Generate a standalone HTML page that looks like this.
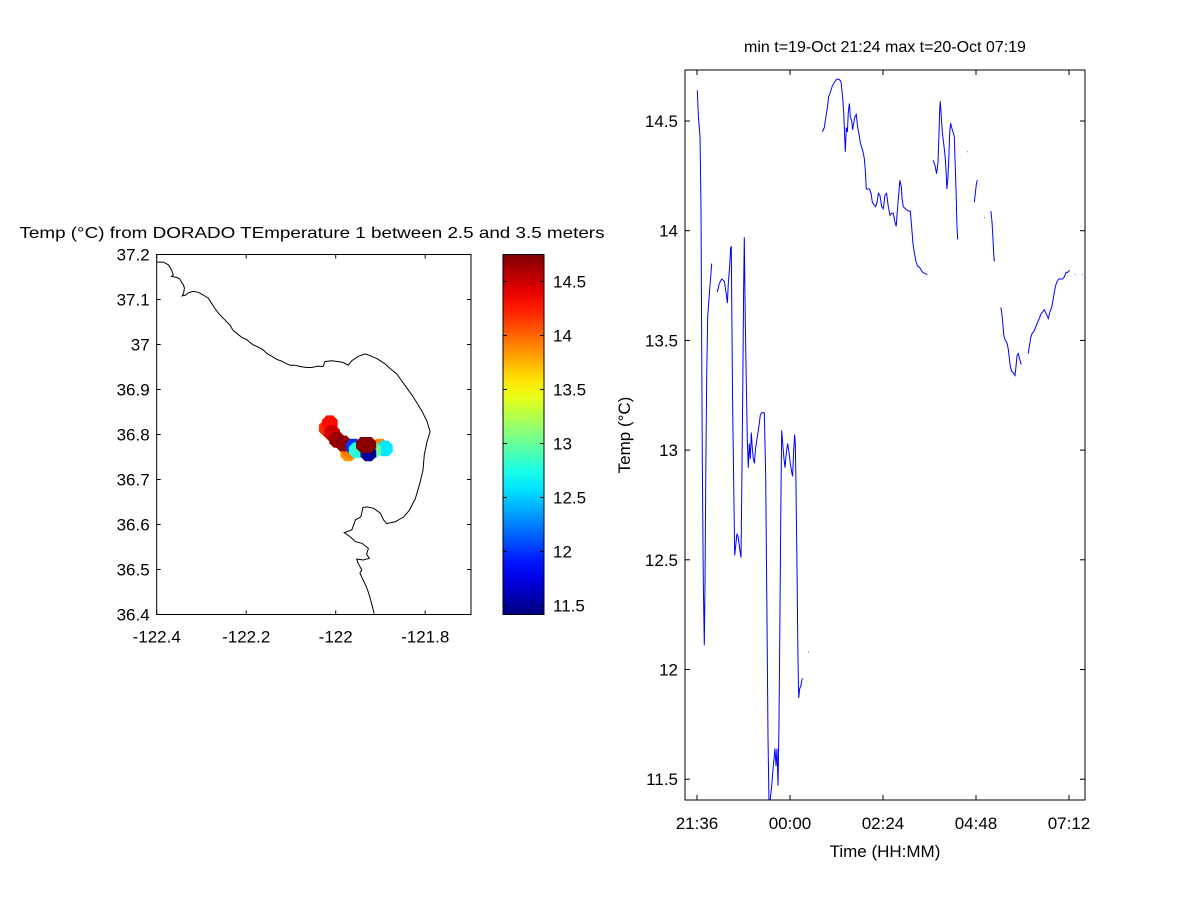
<!DOCTYPE html>
<html><head><meta charset="utf-8"><style>
html,body{margin:0;padding:0;background:#fff;}
svg{display:block;font-family:"Liberation Sans",sans-serif;}
</style></head><body>
<svg id="fig" width="1200" height="900" viewBox="0 0 1200 900">
<rect width="1200" height="900" fill="#fff"/>
<g id="map"></g>
<g id="cbar"></g>
<g id="ts"></g>
</svg>
<script>
// ---------- data ----------
const coastLon=[-122.400,-122.385,-122.374,-122.367,-122.363,-122.367,-122.355,-122.348,-122.344,-122.340,-122.338,-122.340,-122.343,-122.335,-122.329,-122.318,-122.307,-122.296,-122.285,-122.277,-122.270,-122.259,-122.247,-122.236,-122.230,-122.221,-122.210,-122.199,-122.191,-122.184,-122.173,-122.162,-122.154,-122.143,-122.132,-122.121,-122.111,-122.102,-122.091,-122.080,-122.065,-122.054,-122.039,-122.028,-122.024,-122.009,-121.994,-121.983,-121.972,-121.964,-121.949,-121.934,-121.920,-121.905,-121.890,-121.879,-121.864,-121.853,-121.841,-121.830,-121.819,-121.807,-121.796,-121.789,-121.796,-121.802,-121.805,-121.812,-121.822,-121.835,-121.848,-121.867,-121.886,-121.893,-121.900,-121.915,-121.930,-121.939,-121.944,-121.956,-121.964,-121.981,-121.968,-121.956,-121.941,-121.927,-121.931,-121.925,-121.938,-121.953,-121.950,-121.942,-121.946,-121.935,-121.929,-121.924,-121.918,-121.914];
const coastLat=[37.183,37.183,37.177,37.166,37.154,37.151,37.149,37.145,37.137,37.132,37.125,37.114,37.108,37.110,37.115,37.118,37.116,37.110,37.103,37.091,37.080,37.066,37.054,37.043,37.032,37.025,37.016,37.011,37.004,36.999,36.994,36.988,36.980,36.974,36.967,36.963,36.958,36.954,36.954,36.951,36.949,36.949,36.952,36.951,36.962,36.964,36.962,36.960,36.954,36.964,36.974,36.979,36.974,36.967,36.957,36.947,36.935,36.920,36.903,36.888,36.871,36.851,36.829,36.806,36.784,36.755,36.721,36.691,36.658,36.632,36.617,36.606,36.602,36.610,36.625,36.636,36.639,36.638,36.617,36.610,36.588,36.582,36.573,36.562,36.558,36.547,36.534,36.525,36.521,36.523,36.514,36.499,36.492,36.469,36.455,36.440,36.417,36.402];
const ptLon=[-122.020,-122.013,-121.972,-121.968,-121.901,-121.890,-121.916,-122.008,-121.997,-121.983,-121.960,-121.953,-121.927,-121.937,-121.927];
const ptLat=[36.814,36.825,36.758,36.765,36.773,36.769,36.765,36.803,36.788,36.780,36.773,36.765,36.758,36.777,36.777];
const ptTemp=[14.2,14.3,13.85,13.95,13.9,12.6,13.0,14.5,14.65,14.7,12.0,12.8,11.5,14.72,14.72];
const xTicksMap=[-122.4,-122.2,-122,-121.8];
const yTicksMap=[37.2,37.1,37,36.9,36.8,36.7,36.6,36.5,36.4];
const cbTicks=[14.5,14,13.5,13,12.5,12,11.5];
// time series: minutes since 21:36, temperature; null splits segments
const tsTime=[0.5,2.1,4.6,6.2,7.2,8.2,9.8,11.3,12.4,13.4,15.0,16.5,18.6,20.1,22.7,null,
31.5,34.6,38.2,42.3,44.9,47.0,48.5,50.6,52.1,53.1,53.7,55.2,57.3,58.3,59.8,62.0,64.0,66.6,68.1,69.1,70.7,72.2,73.3,74.8,76.4,77.9,79.4,81.0,82.6,84.1,85.7,87.2,88.8,90.8,92.9,96.0,98.0,100.1,104.2,106.3,108.3,109.9,111.5,113.5,115.6,118.2,120.8,122.3,123.9,125.4,127.0,128.5,130.1,131.1,132.7,134.7,136.3,138.4,140.4,142.4,144.5,146.6,148.1,149.6,151.2,152.2,153.2,154.8,156.3,157.4,158.9,161.0,163.1,null,
172.0,173.0,null,
194.0,197.1,200.2,202.3,203.8,206.4,209.5,213.7,216.2,219.8,222.9,225.5,227.1,228.1,229.7,231.2,232.8,234.3,235.9,237.4,239.5,241.0,242.6,244.7,246.7,248.8,250.9,252.9,255.0,257.1,259.1,260.7,262.2,264.3,266.9,269.5,271.5,273.6,276.7,278.8,280.8,283.3,285.9,288.4,291.0,293.6,296.2,298.8,301.4,303.9,306.5,308.5,310.1,312.2,314.2,316.3,317.8,319.4,322.5,327.1,330.2,332.3,334.4,336.4,339.0,341.6,345.2,349.4,356.6,null,
365.8,368.4,371.0,373.1,374.6,375.7,376.6,378.2,379.8,381.9,383.9,385.5,387.0,388.5,390.1,391.2,392.7,394.3,396.4,398.4,399.4,401.0,402.5,403.6,null,
418.0,419.0,null,
429.3,430.9,432.4,434.0,null,
444.3,445.3,null,
455.1,456.7,458.2,459.3,460.3,null,
470.6,472.1,473.7,475.2,477.3,479.9,482.0,483.6,485.1,487.2,490.3,492.4,493.9,495.5,497.5,499.1,502.2,null,
512.9,515.0,516.6,518.6,521.7,524.3,526.9,530.0,532.5,535.1,537.7,540.8,543.9,546.5,549.1,551.1,553.2,555.3,557.8,560.4,563.5,566.1,568.7,571.3,573.8,576.9,null,
585.1,586.1,null,
595.9,596.9];
const tsTemp=[14.64,14.52,14.43,14.11,13.55,12.97,12.40,12.11,12.39,12.85,13.34,13.61,13.69,13.75,13.85,null,
13.72,13.76,13.78,13.77,13.72,13.67,13.76,13.84,13.92,13.93,13.69,13.22,12.75,12.52,12.56,12.62,12.60,12.54,12.51,12.75,13.24,13.72,13.97,13.58,13.31,13.05,12.92,13.03,12.96,13.08,13.01,12.96,12.94,13.01,13.05,13.11,13.16,13.17,13.17,12.88,12.28,11.69,11.39,11.41,11.47,11.56,11.64,11.56,11.64,11.47,11.75,12.28,12.81,13.09,13.03,12.96,12.92,12.99,13.03,12.99,12.94,12.90,12.88,12.99,13.07,13.03,12.87,12.47,12.07,11.87,11.91,11.93,11.96,null,
12.08,12.08,null,
14.45,14.47,14.53,14.57,14.61,14.63,14.66,14.68,14.69,14.69,14.68,14.61,14.54,14.47,14.36,14.47,14.45,14.54,14.58,14.52,14.50,14.46,14.49,14.52,14.53,14.47,14.44,14.40,14.38,14.36,14.33,14.27,14.19,14.19,14.19,14.17,14.13,14.12,14.11,14.13,14.17,14.16,14.11,14.10,14.16,14.17,14.11,14.07,14.08,14.08,14.04,14.02,14.09,14.16,14.23,14.20,14.14,14.11,14.10,14.09,14.09,14.02,13.94,13.90,13.86,13.84,13.83,13.81,13.80,null,
14.32,14.30,14.26,14.31,14.43,14.54,14.59,14.52,14.45,14.40,14.35,14.28,14.19,14.24,14.34,14.44,14.49,14.47,14.45,14.43,14.34,14.19,14.03,13.96,null,
14.36,14.36,null,
14.13,14.17,14.21,14.23,null,
14.06,14.06,null,
14.09,14.04,13.97,13.90,13.86,null,
13.65,13.62,13.57,13.52,13.50,13.49,13.46,13.42,13.38,13.36,13.35,13.34,13.38,13.43,13.44,13.42,13.39,null,
13.44,13.48,13.51,13.53,13.54,13.56,13.58,13.60,13.62,13.63,13.64,13.62,13.60,13.63,13.65,13.68,13.72,13.75,13.77,13.78,13.78,13.78,13.79,13.81,13.81,13.82,null,
13.80,13.80,null,
13.80,13.80];
const tsYTicks=[14.5,14,13.5,13,12.5,12,11.5];
const tsXTicks=[0,144,288,432,576];
const tsXTickLabels=["21:36","00:00","02:24","04:48","07:12"];

// ---------- helpers ----------
const NS="http://www.w3.org/2000/svg";
function mk(tag,attrs,parent,text){const e=document.createElementNS(NS,tag);for(const k in attrs)e.setAttribute(k,attrs[k]);if(text!==undefined)e.textContent=text;parent.appendChild(e);return e;}
function jet(v){const f=t=>Math.max(0,Math.min(1,t));const r=f(Math.min(4*v-1.5,-4*v+4.5)),g=f(Math.min(4*v-0.5,-4*v+3.5)),b=f(Math.min(4*v+0.5,-4*v+2.5));return `rgb(${Math.round(r*255)},${Math.round(g*255)},${Math.round(b*255)})`;}
const FS=17;

// ---------- map ----------
const map=document.getElementById('map');
const mL=156.7,mR=471,mT=254.5,mB=614.5,lon0=-122.4,lat0=36.4;
const mx=lon=>mL+(lon-lon0)*447.5;
const my=lat=>mB-(lat-lat0)*450;
const cMin=11.417,cMax=14.75;
let t=mk('text',{x:312,y:238,'text-anchor':'middle','font-size':16,textLength:585,lengthAdjust:'spacingAndGlyphs'},map,'Temp (°C) from DORADO TEmperature 1 between 2.5 and 3.5 meters');

const cp=mk('clipPath',{id:'mapclip'},map);mk('rect',{x:mL,y:mT,width:mR-mL,height:mB-mT},cp);
let d='';coastLon.forEach((lo,i)=>{d+=(i?'L':'M')+mx(lo).toFixed(1)+','+my(coastLat[i]).toFixed(1);});
let coast=mk('path',{d:d,fill:'none',stroke:'#000','stroke-width':1,'clip-path':'url(#mapclip)'},map);

ptLon.forEach((lo,i)=>{const cx=mx(lo),cy=my(ptLat[i]),r=8.5;let pts=[];for(let k=0;k<8;k++){const a=Math.PI/8+k*Math.PI/4;pts.push((cx+r*Math.cos(a)).toFixed(1)+','+(cy+r*Math.sin(a)).toFixed(1));}
 const p=mk('polygon',{points:pts.join(' '),fill:jet((ptTemp[i]-cMin)/(cMax-cMin))},map);
 });
let frame=mk('rect',{x:mL,y:mT,width:mR-mL,height:mB-mT,fill:'none',stroke:'#000','stroke-width':1},map);

xTicksMap.forEach(v=>{const x=mx(v);mk('line',{x1:x,x2:x,y1:mB,y2:mB-4,stroke:'#000'},map);mk('line',{x1:x,x2:x,y1:mT,y2:mT+4,stroke:'#000'},map);
 const l=mk('text',{x:x,y:mB+28,'text-anchor':'middle','font-size':FS},map,String(v));});
yTicksMap.forEach(v=>{const y=my(v);mk('line',{x1:mL,x2:mL+4,y1:y,y2:y,stroke:'#000'},map);mk('line',{x1:mR,x2:mR-4,y1:y,y2:y,stroke:'#000'},map);
 const l=mk('text',{x:mL-7,y:y+6,'text-anchor':'end','font-size':FS},map,String(v));});

// ---------- colorbar ----------
const cb=document.getElementById('cbar');
const cL=503,cR=544,cT=254.5,cB=614.5;
const cy=v=>cB-(v-cMin)/(cMax-cMin)*(cB-cT);
const grad=mk('linearGradient',{id:'jetg',x1:0,y1:1,x2:0,y2:0},cb);
for(let k=0;k<=20;k++){mk('stop',{offset:k/20,'stop-color':jet(k/20)},grad);}
let cbr=mk('rect',{x:cL,y:cT,width:cR-cL,height:cB-cT,fill:'url(#jetg)',stroke:'#000'},cb);

cbTicks.forEach(v=>{const y=cy(v);mk('line',{x1:cR,x2:cR-4,y1:y,y2:y,stroke:'#000'},cb);mk('line',{x1:cL,x2:cL+4,y1:y,y2:y,stroke:'#000'},cb);
 const l=mk('text',{x:cR+9,y:y+6,'font-size':FS},cb,String(v));});

// ---------- time series ----------
const ts=document.getElementById('ts');
const tL=685,tR=1085,tT=70,tB=800;
const tx=m=>697+m*93/144;
const ty=v=>121+(14.5-v)*219.4;
t=mk('text',{x:885,y:52,'text-anchor':'middle','font-size':16},ts,'min t=19-Oct 21:24 max t=20-Oct 07:19');

const cp2=mk('clipPath',{id:'tsclip'},ts);mk('rect',{x:tL,y:tT,width:tR-tL,height:tB-tT},cp2);
d='';let pen=false;
tsTime.forEach((m,i)=>{if(m===null){pen=false;return;}d+=(pen?'L':'M')+tx(m).toFixed(1)+','+ty(tsTemp[i]).toFixed(1);pen=true;});
let line=mk('path',{d:d,fill:'none',stroke:'#0000ff','stroke-width':1,'clip-path':'url(#tsclip)'},ts);

let fr2=mk('rect',{x:tL,y:tT,width:tR-tL,height:tB-tT,fill:'none',stroke:'#000'},ts);

tsYTicks.forEach(v=>{const y=ty(v);mk('line',{x1:tL,x2:tL+5,y1:y,y2:y,stroke:'#000'},ts);mk('line',{x1:tR,x2:tR-5,y1:y,y2:y,stroke:'#000'},ts);
 const l=mk('text',{x:tL-7,y:y+6,'text-anchor':'end','font-size':FS},ts,String(v));});
tsXTicks.forEach((m,i)=>{const x=tx(m);mk('line',{x1:x,x2:x,y1:tB,y2:tB-5,stroke:'#000'},ts);mk('line',{x1:x,x2:x,y1:tT,y2:tT+5,stroke:'#000'},ts);
 const l=mk('text',{x:x,y:tB+29,'text-anchor':'middle','font-size':FS},ts,tsXTickLabels[i]);});
t=mk('text',{x:885,y:857,'text-anchor':'middle','font-size':FS},ts,'Time (HH:MM)');

t=mk('text',{x:0,y:0,'text-anchor':'middle','font-size':FS,transform:'translate(630,435) rotate(-90)'},ts,'Temp (°C)');

</script>
</body></html>
